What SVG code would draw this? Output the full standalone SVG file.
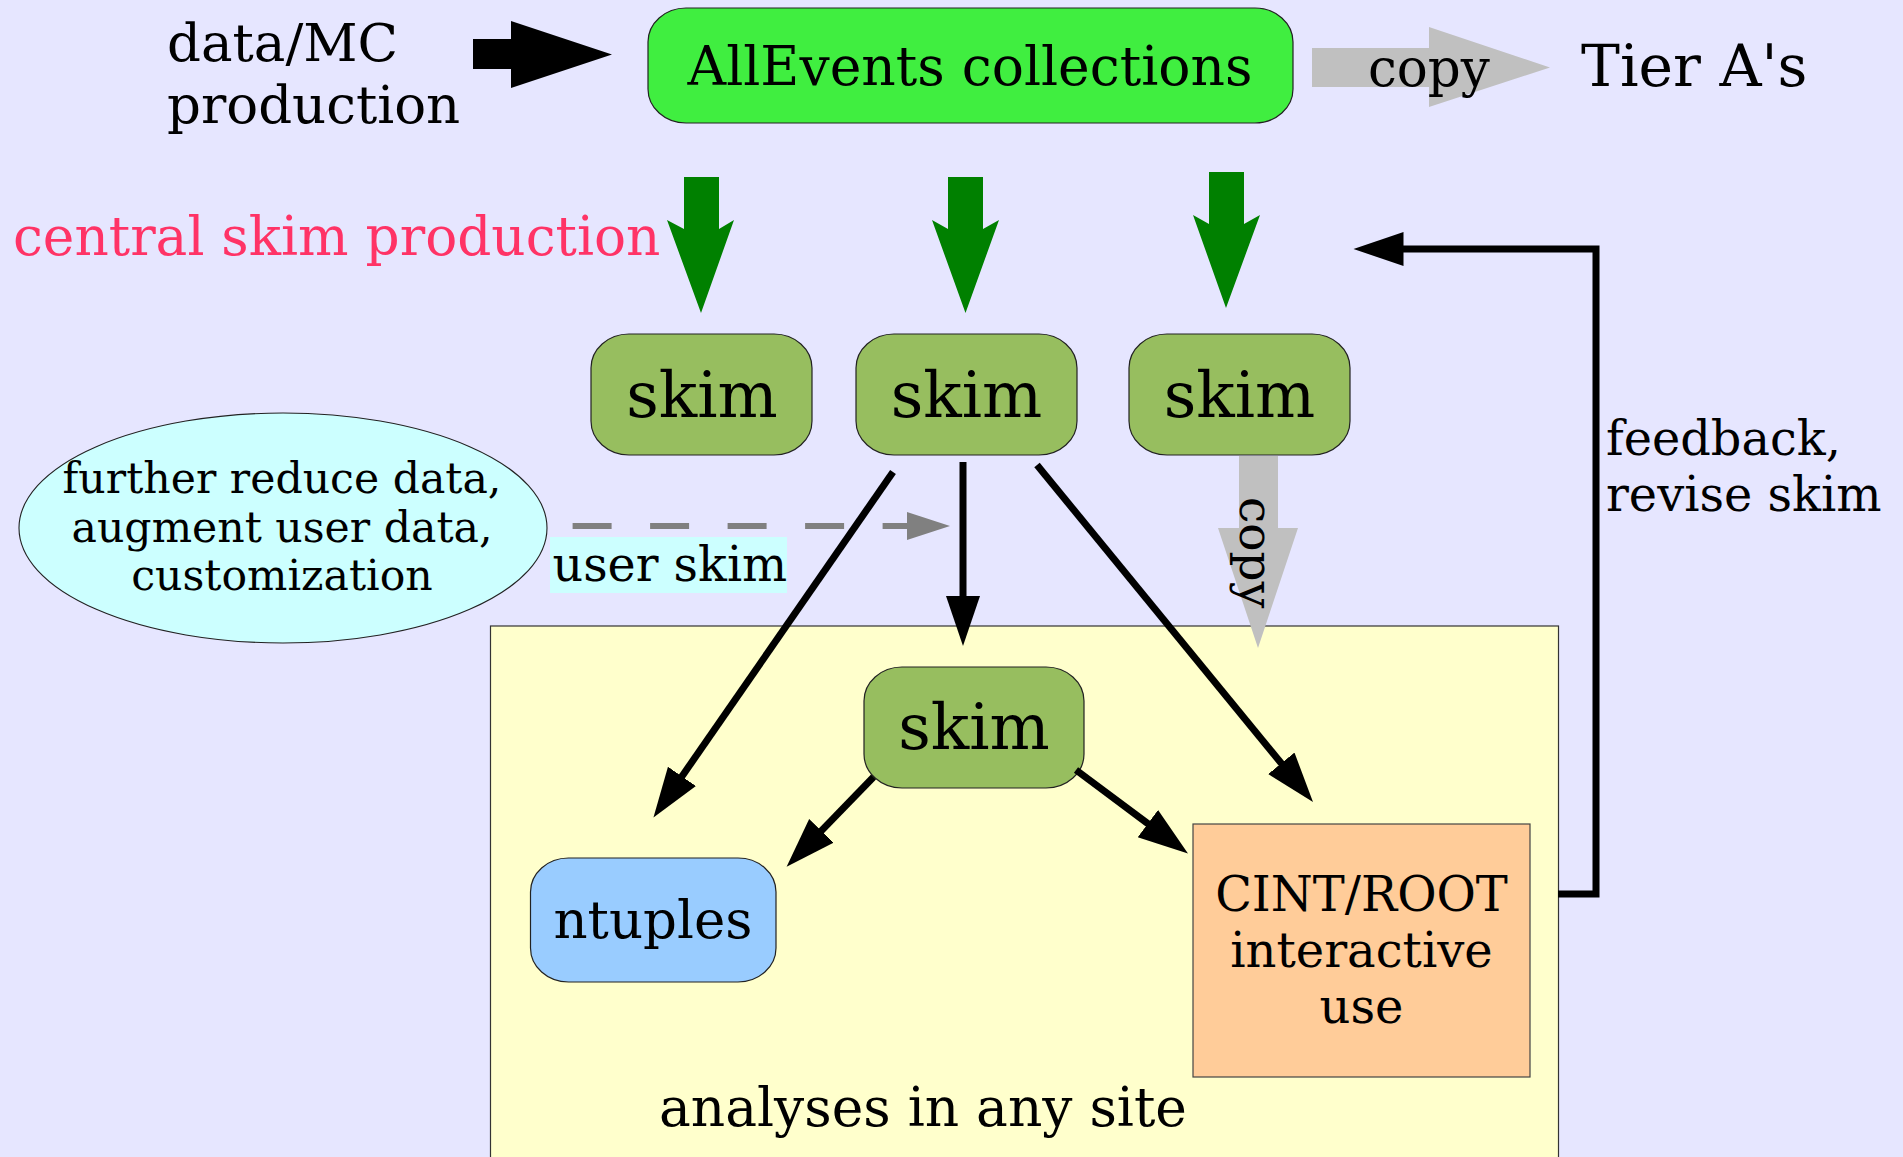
<svg xmlns="http://www.w3.org/2000/svg" width="1903" height="1157" viewBox="0 0 1903 1157">
  <style>
    text { font-family: "DejaVu Serif", "Liberation Serif", serif; fill: #000; }
    .box { stroke: #222; stroke-width: 1.2; }
    .skim { fill: #97be5f; }
    .lbl54 { font-size: 53.5px; }
    .skimtxt { font-size: 63.5px; text-anchor: middle; }
    .flow { fill: none; stroke: #000; stroke-width: 7; }
    .grn { fill: #008000; }
    .gray { fill: #c0c0c0; }
  </style>
  <defs>
    <marker id="head" markerUnits="userSpaceOnUse" markerWidth="52" markerHeight="36" refX="5" refY="17" orient="auto" viewBox="0 0 52 36">
      <path d="M0,0 L50,17 L0,34 Z" fill="#000"/>
    </marker>
  </defs>

  <!-- background -->
  <rect x="0" y="0" width="1903" height="1157" fill="#e6e6ff"/>

  <!-- analysis area -->
  <g id="analysis-area">
    <rect x="490.5" y="626" width="1068" height="540" fill="#ffffcc" stroke="#333" stroke-width="1.2"/>
    <text x="659" y="1126" style="font-size:53.4px">analyses in any site</text>
  </g>

  <!-- source label -->
  <g id="data-mc">
    <text x="167" y="61" style="font-size:53px">data/MC</text>
    <text x="167" y="123" style="font-size:53px">production</text>
  </g>

  <g id="allevents">
    <rect x="648" y="8" width="645" height="115" rx="38" ry="34" fill="#40ee40" class="box"/>
    <text x="970" y="85" class="lbl54" text-anchor="middle">AllEvents collections</text>
  </g>

  <g id="tier-a">
    <text x="1581" y="86" style="font-size:58.3px">Tier A's</text>
  </g>

  <g id="central-label">
    <text x="13" y="255" style="font-size:53.3px; fill:#ff3366">central skim production</text>
  </g>

  <g id="skim1">
    <rect x="591" y="334" width="221" height="121" rx="38" ry="34" class="box skim"/>
    <text x="702" y="417" class="skimtxt">skim</text>
  </g>
  <g id="skim2">
    <rect x="856" y="334" width="221" height="121" rx="38" ry="34" class="box skim"/>
    <text x="966.5" y="417" class="skimtxt">skim</text>
  </g>
  <g id="skim3">
    <rect x="1129" y="334" width="221" height="121" rx="38" ry="34" class="box skim"/>
    <text x="1239.5" y="417" class="skimtxt">skim</text>
  </g>

  <g id="user-needs">
    <ellipse cx="283" cy="528" rx="264" ry="115" fill="#ccffff" stroke="#222" stroke-width="1.1"/>
    <text x="282" y="493" style="font-size:42.6px" text-anchor="middle">further reduce data,</text>
    <text x="282" y="542" style="font-size:42.6px" text-anchor="middle">augment user data,</text>
    <text x="282" y="590" style="font-size:42.6px" text-anchor="middle">customization</text>
  </g>

  <g id="user-skim">
    <rect x="864" y="667" width="220" height="121" rx="38" ry="34" class="box skim"/>
    <text x="974" y="749" class="skimtxt">skim</text>
  </g>

  <g id="ntuples">
    <rect x="530.5" y="858" width="245.5" height="124" rx="38" ry="34" fill="#99ccff" class="box"/>
    <text x="653" y="937.5" style="font-size:53px" text-anchor="middle">ntuples</text>
  </g>

  <g id="cint-root">
    <rect x="1193" y="824" width="337" height="253" fill="#ffcc99" stroke="#444" stroke-width="1.2"/>
    <text x="1361.5" y="911" style="font-size:48px" text-anchor="middle">CINT/ROOT</text>
    <text x="1361.5" y="967" style="font-size:48px" text-anchor="middle">interactive</text>
    <text x="1361.5" y="1023" style="font-size:48px" text-anchor="middle">use</text>
  </g>

  <!-- connectors -->
  <g id="connectors">
    <!-- production into collections -->
    <polygon points="473,39 511,39 511,21 612,54.5 511,88 511,69 473,69" fill="#000"/>

    <!-- copy to Tier A's -->
    <polygon points="1312,48 1429,48 1429,27 1550,67.5 1429,107 1429,87 1312,87" class="gray"/>
    <text x="1368" y="86" style="font-size:51.5px">copy</text>

    <!-- central skim production arrows -->
    <polygon points="684,177 719,177 719,229 734,220 701,313 667,220 684,229" class="grn"/>
    <polygon points="948,177 983,177 983,229 999,220 965.5,313 932,220 948,229" class="grn"/>
    <polygon points="1209,172 1244,172 1244,224 1260,215 1226,308 1193,215 1209,224" class="grn"/>

    <!-- copy skim down to the analysis site -->
    <polygon points="1239,456 1278,456 1278,528 1298,528 1258,648 1218,528 1239,528" class="gray"/>
    <text transform="translate(1240,497) rotate(90)" style="font-size:47px">copy</text>

    <!-- user skim (dashed) -->
    <rect x="550" y="537" width="237" height="56" fill="#ccffff"/>
    <text x="552.5" y="581" style="font-size:47.6px">user skim</text>
    <line x1="572.6" y1="526" x2="907" y2="526" stroke="#808080" stroke-width="6" stroke-dasharray="39 38.5"/>
    <polygon points="907,512 950,526 907,540" fill="#808080"/>

    <!-- skim outputs -->
    <line x1="893" y1="472" x2="679.1" y2="780.5" class="flow" marker-end="url(#head)"/>
    <line x1="963" y1="462" x2="963" y2="601" class="flow" marker-end="url(#head)"/>
    <line x1="1037" y1="465" x2="1284.5" y2="767.2" class="flow" marker-end="url(#head)"/>
    <line x1="873.5" y1="777" x2="817.9" y2="834.4" class="flow" marker-end="url(#head)"/>
    <line x1="1076" y1="770" x2="1151.9" y2="826.6" class="flow" marker-end="url(#head)"/>

    <!-- feedback loop -->
    <polyline points="1558,894 1596,894 1596,249 1398.5,249" class="flow" stroke-linejoin="miter" marker-end="url(#head)"/>
    <text x="1606" y="455" style="font-size:47.8px">feedback,</text>
    <text x="1606" y="511" style="font-size:47.8px">revise skim</text>
  </g>
</svg>
